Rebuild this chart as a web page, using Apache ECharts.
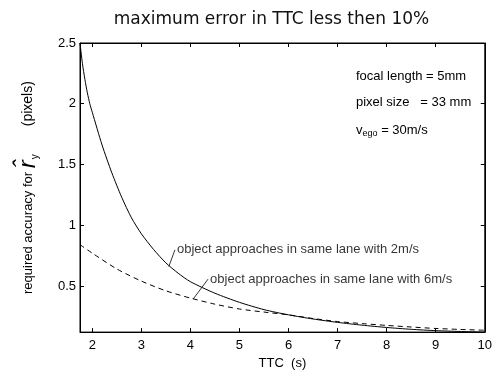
<!DOCTYPE html>
<html>
<head>
<meta charset="utf-8">
<script src="https://cdn.jsdelivr.net/npm/echarts@6/dist/echarts.min.js"></script>
<style>
    html, body { margin: 0; background: #fff; }
    #chart { width: 495px; height: 375px; }
</style>
</head>
<body>
<div id="chart"></div>
<script>
    // curve for 2 m/s (solid)
    const ttcSlow = [1.75, 1.8, 1.85, 1.9, 1.95, 2.0, 2.2, 2.4, 2.6, 2.8, 3.0, 3.25, 3.5, 3.75, 4.0, 4.5, 5, 5.5, 6, 6.5, 7, 7.5, 8, 8.5, 9, 9.5, 10]
    const accSlow = [2.5, 2.33, 2.2, 2.09, 2.0, 1.93, 1.66, 1.43, 1.23, 1.06, 0.93, 0.8, 0.69, 0.605, 0.535, 0.44, 0.365, 0.305, 0.262, 0.228, 0.2, 0.177, 0.158, 0.143, 0.132, 0.125, 0.12]

    // curve for 6 m/s (dashed)
    const ttcFast = [1.75, 2, 2.5, 3, 3.5, 4, 4.5, 5, 5.5, 6, 6.5, 7, 7.5, 8, 8.5, 9, 9.5, 10]
    const accFast = [0.84, 0.77, 0.64, 0.54, 0.46, 0.4, 0.35, 0.31, 0.285, 0.262, 0.232, 0.207, 0.19, 0.175, 0.162, 0.15, 0.142, 0.135]

    const xTicks = [2, 3, 4, 5, 6, 7, 8, 9, 10]
    const yTicks = [0.5, 1, 1.5, 2, 2.5]

    // annotation leaders, [curve point, text point]
    const slowLeader = [[3.56, 0.66], [3.685, 0.797]]
    const fastLeader = [[4.06, 0.394], [4.36, 0.556]]
    const slowText = 'object approaches in same lane with 2m/s'
    const fastText = 'object approaches in same lane with 6m/s'

    const paramText = ['focal length = 5mm', 'pixel size   = 33 mm', '{n|v}{s|ego}{n| = 30m/s}']

    const sans = 'Liberation Sans, Arial, sans-serif'
    const pair = (xs, ys) => xs.map((x, i) => [x, ys[i]])

    const chart = echarts.init(document.getElementById('chart'))

    const frameAxis = (extra) => Object.assign({
        type: 'value',
        axisLine: { show: true, onZero: false, lineStyle: { color: '#000', width: 1 } },
        axisTick: { show: true, inside: true, length: 4, lineStyle: { color: '#000' } },
        splitLine: { show: false }
    }, extra)

    const labelPoint = (coord, text) => ({
        type: 'scatter',
        data: [coord],
        symbolSize: 0,
        silent: true,
        label: {
            show: true,
            position: 'right',
            distance: 2,
            formatter: text,
            color: '#000',
            fontFamily: sans,
            fontSize: 13
        }
    })

    const leader = (pts) => ({
        type: 'line',
        data: pts,
        symbol: 'none',
        silent: true,
        lineStyle: { color: '#000', width: 0.8 }
    })

    const option = {
        animation: false,
        grid: { left: 80, right: 8, top: 43, bottom: 42, show: true, borderColor: '#000', borderWidth: 1 },
        xAxis: [
            frameAxis({
                min: 1.75, max: 10,
                axisTick: { show: true, inside: true, length: 4, customValues: xTicks, lineStyle: { color: '#000' } },
                axisLabel: { customValues: xTicks, color: '#000', fontFamily: sans, fontSize: 13, margin: 7 },
                name: 'TTC  (s)',
                nameLocation: 'middle',
                nameGap: 18,
                nameTextStyle: { color: '#000', fontFamily: sans, fontSize: 13, verticalAlign: 'top' }
            }),
            frameAxis({
                position: 'top', min: 1.75, max: 10,
                axisTick: { show: true, inside: true, length: 4, customValues: xTicks, lineStyle: { color: '#000' } },
                axisLabel: { show: false }
            })
        ],
        yAxis: [
            frameAxis({
                min: 0.12, max: 2.5,
                axisTick: { show: true, inside: true, length: 4, customValues: yTicks, lineStyle: { color: '#000' } },
                axisLabel: { customValues: yTicks, color: '#000', fontFamily: sans, fontSize: 13, margin: 4 },
                name: '{t|required accuracy for }{r|r\u0302}{s|y}{g| }{p|(pixels)}',
                nameLocation: 'middle',
                nameRotate: 90,
                nameGap: 40,
                nameTextStyle: {
                    color: '#000',
                    rich: {
                        t: { fontFamily: sans, fontSize: 13, color: '#000' },
                        r: { fontFamily: sans, fontSize: 24, fontStyle: 'italic', color: '#000' },
                        s: { fontFamily: sans, fontSize: 10, color: '#000', verticalAlign: 'bottom', padding: [9, 0, 0, 1] },
                        g: { width: 28, fontSize: 13 },
                        p: { fontFamily: sans, fontSize: 14, color: '#000' }
                    }
                }
            }),
            frameAxis({
                position: 'right', min: 0.12, max: 2.5,
                axisTick: { show: true, inside: true, length: 4, customValues: yTicks, lineStyle: { color: '#000' } },
                axisLabel: { show: false }
            })
        ],
        graphic: [
            {
                type: 'text', x: 271.5, y: 20,
                style: {
                    text: 'maximum error in TTC less then 10%',
                    fontFamily: 'DejaVu Sans', fontSize: 17, fill: '#111',
                    textAlign: 'center', textVerticalAlign: 'middle'
                }
            },
            { type: 'text', x: 356, y: 76, style: { text: paramText[0], fontFamily: sans, fontSize: 13, fill: '#000', textVerticalAlign: 'middle' } },
            { type: 'text', x: 356, y: 102, style: { text: paramText[1], fontFamily: sans, fontSize: 13, fill: '#000', textVerticalAlign: 'middle' } },
            {
                type: 'text', x: 356, y: 130,
                style: {
                    text: paramText[2], fill: '#000', textVerticalAlign: 'middle',
                    rich: {
                        n: { fontFamily: sans, fontSize: 13, fill: '#000' },
                        s: { fontFamily: sans, fontSize: 9, fill: '#000', verticalAlign: 'bottom', padding: [8, 0, 0, 0] }
                    }
                }
            }
        ],
        series: [
            {
                name: '2m/s',
                type: 'line',
                data: pair(ttcSlow, accSlow),
                symbol: 'none',
                smooth: 0.25,
                lineStyle: { color: '#000', width: 1 }
            },
            {
                name: '6m/s',
                type: 'line',
                data: pair(ttcFast, accFast),
                symbol: 'none',
                smooth: 0.25,
                lineStyle: { color: '#000', width: 1, type: [5, 4] }
            },
            leader(slowLeader),
            leader(fastLeader),
            labelPoint(slowLeader[1], slowText),
            labelPoint(fastLeader[1], fastText)
        ]
    }

    chart.setOption(option)
</script>
</body>
</html>
